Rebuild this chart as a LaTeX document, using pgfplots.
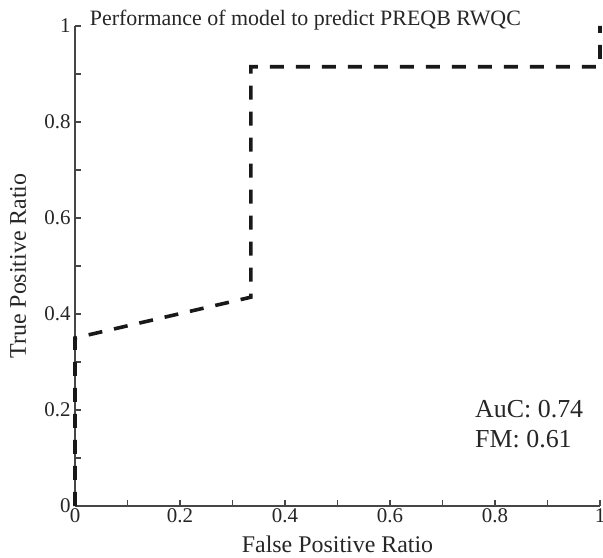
\documentclass[border=0pt]{standalone}
\usepackage{fontspec}
\setmainfont{Liberation Serif}
\usepackage{pgfplots}
\pgfplotsset{compat=1.18}
\definecolor{axisgray}{RGB}{70,70,70}
\begin{document}
\begin{tikzpicture}
\begin{axis}[
  scale only axis,
  width=525bp, height=480bp,
  xmin=0, xmax=1, ymin=0, ymax=1,
  axis x line=bottom, axis y line=left,
  axis line style={-, axisgray, line width=1.3bp},
  xtick={0,0.2,0.4,0.6,0.8,1}, ytick={0,0.2,0.4,0.6,0.8,1},
  xticklabels={0,0.2,0.4,0.6,0.8,1}, yticklabels={0,0.2,0.4,0.6,0.8,1},
  minor tick num=1,
  tick align=inside,
  major tick length=6bp, minor tick length=6bp,
  tick style={axisgray, line width=1.1bp},
  ticklabel style={font=\fontsize{21}{23}\selectfont, text=black!85},
  xticklabel style={yshift=1bp},
  yticklabel style={xshift=-1bp},
  /pgf/number format/assume math mode=true,
  xlabel={False Positive Ratio},
  ylabel={True Positive Ratio},
  label style={font=\fontsize{24}{26}\selectfont, text=black!85},
  xlabel style={at={(axis description cs:0.5,-0.079)}, anchor=center},
  ylabel style={at={(axis description cs:-0.1086,0.5)}, anchor=center},
  clip=false,
]
\addplot[black!90, line width=3.6bp, dash pattern=on 14bp off 12bp]
coordinates {(0,0) (0,0.35) (0.335,0.435) (0.335,0.915) (1,0.915) (1,1)};
\node[anchor=base west, font=\fontsize{22}{24}\selectfont, text=black!85, inner sep=0pt]
  at (rel axis cs:0.028,1.002) {Performance of model to predict PREQB RWQC};
\node[anchor=base west, font=\fontsize{26}{31}\selectfont, text=black!85, align=left, inner sep=0pt]
  at (rel axis cs:0.762,0.121) {AuC: 0.74\\FM: 0.61};
\end{axis}
\pgfresetboundingbox
\useasboundingbox (-75bp,-52bp) rectangle (528bp,506bp);
\end{tikzpicture}
\end{document}
